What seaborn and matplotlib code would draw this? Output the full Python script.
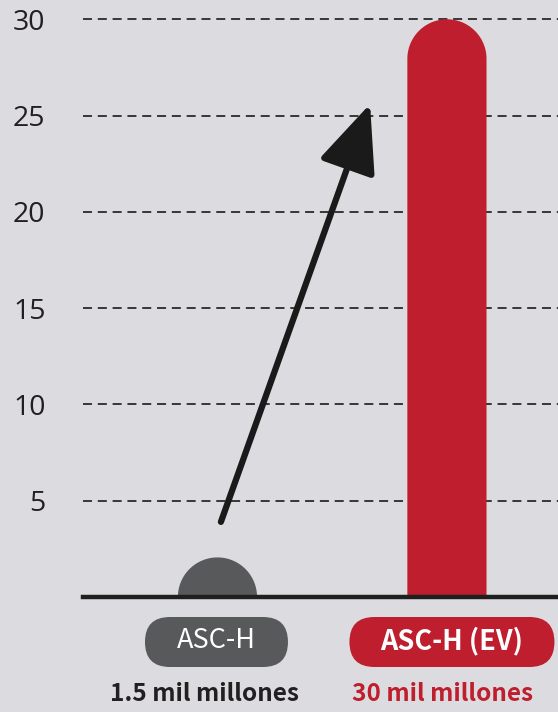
import matplotlib
matplotlib.use("Agg")
import matplotlib.pyplot as plt
import seaborn as sns
import numpy as np
import pandas as pd
from matplotlib.patches import PathPatch, FancyBboxPatch
from matplotlib.path import Path
from matplotlib.transforms import IdentityTransform

# ---- data ----
categories = ["ASC-H", "ASC-H (EV)"]
values = [1.5, 30]
value_labels = ["1.5 mil millones", "30 mil millones"]
yticks = [5, 10, 15, 20, 25, 30]

bar_colors = ["#58595b", "#be1e2d"]
text_colors = ["#231f20", "#be1e2d"]

sns.set_theme(style="white")
plt.rcParams["font.family"] = ["Noto Sans CJK KR", "DejaVu Sans"]

W, H = 558, 712
fig = plt.figure(figsize=(W / 100, H / 100), dpi=100)
bg = "#dcdce0"
fig.patch.set_facecolor(bg)

ax = fig.add_axes([83 / W, 115 / H, 1 - 83 / W, 1 - 115 / H])
ax.set_facecolor(bg)

df = pd.DataFrame({"cat": categories, "val": values})
sns.barplot(data=df, x="cat", y="val", hue="cat", palette=bar_colors,
            width=0.345, legend=False, ax=ax, saturation=1)

ax.set_xlim(-0.586, 1.484)
ax.set_ylim(0, 31.0)
ax.set_yticks(yticks)
ax.set_yticklabels([str(t) for t in yticks], fontsize=20.5, color="#231f20",
                   family=["Open Sans", "DejaVu Sans"])
ax.tick_params(axis="y", length=0, pad=27)
ax.set_xticks([])
ax.set_xlabel("")
ax.set_ylabel("")
ax.yaxis.grid(True, linestyle=(0, (5, 3.2)), color="#2a2a2a", lw=1.3)
ax.xaxis.grid(False)
ax.set_axisbelow(True)
for s in ["left", "top", "right"]:
    ax.spines[s].set_visible(False)
ax.spines["bottom"].set_linewidth(3.2)
ax.spines["bottom"].set_color("#1f1f1f")
ax.spines["bottom"].set_zorder(5)

# rounded-top bars (single path per bar, no seam)
fig.canvas.draw()
p0 = ax.transData.transform((0, 0))
p1 = ax.transData.transform((1, 1))
px_x = p1[0] - p0[0]
px_y = p1[1] - p0[1]
theta = np.linspace(0, np.pi, 90)
for patch in list(ax.patches):
    x = patch.get_x()
    w = patch.get_width()
    h = patch.get_height()
    fc = patch.get_facecolor()
    patch.set_visible(False)
    r_y = (w * px_x / 2) / px_y
    body_top = max(h - r_y, 0)
    cx = x + w / 2
    arc_x = cx + (w / 2) * np.cos(theta)
    arc_y = body_top + r_y * np.sin(theta)
    verts = [(x, 0), (x + w, 0)] + list(zip(arc_x, arc_y)) + [(x, 0)]
    codes = [Path.MOVETO] + [Path.LINETO] * (len(verts) - 2) + [Path.CLOSEPOLY]
    ax.add_patch(PathPatch(Path(verts, codes), facecolor=fc,
                           edgecolor="none", zorder=3))

# arrow
ax.annotate("", xy=(0.665, 25.6), xytext=(0.015, 3.9),
            arrowprops=dict(arrowstyle="-|>,head_length=4.2,head_width=1.8",
                            mutation_scale=10, lw=4.5, color="#1a1a1a",
                            shrinkA=0, shrinkB=0), zorder=4)

# pills with category names
pill_w = [143, 205]
pill_off = [-1, 5]
label_off = [-13, -4]
pill_weights = ["normal", "bold"]
for i, cat in enumerate(categories):
    cx = ax.transData.transform((i, 0))[0] + pill_off[i]
    pw = pill_w[i]
    pill = FancyBboxPatch((cx - pw / 2, 45), pw, 50,
                          boxstyle="round,pad=0,rounding_size=25",
                          facecolor=bar_colors[i], edgecolor="none",
                          transform=IdentityTransform())
    fig.add_artist(pill)
    fig.text(cx / W, 71 / H, cat, ha="center", va="center", color="white",
             fontsize=19.5, fontweight=pill_weights[i])
    lx = ax.transData.transform((i, 0))[0] + label_off[i]
    fig.text(lx / W, 18 / H, value_labels[i], ha="center", va="center",
             color=text_colors[i], fontsize=17.5, fontweight="bold")

fig.savefig("out.png", dpi=100, facecolor=bg)
